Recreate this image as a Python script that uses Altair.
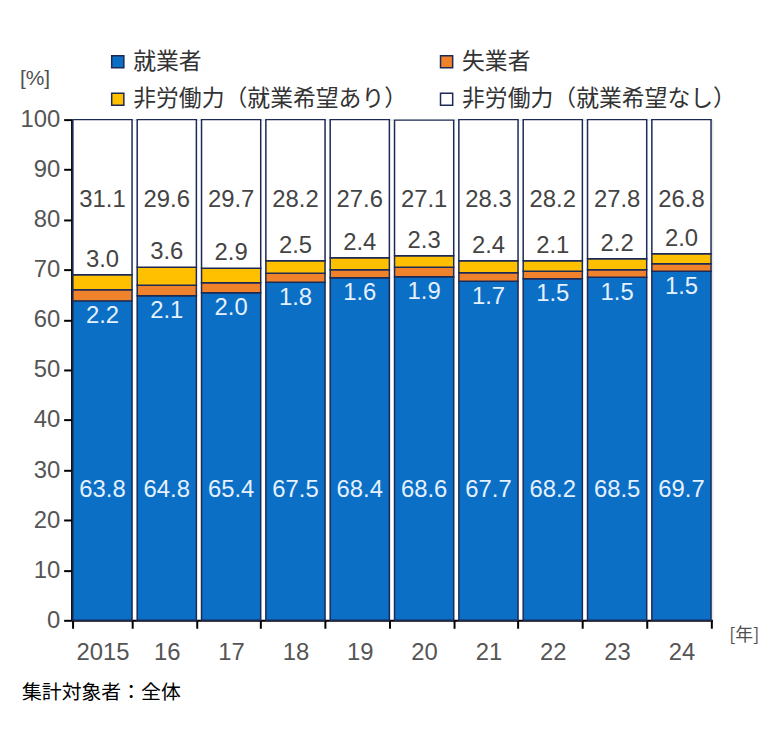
import altair as alt
import pandas as pd

years = ["2015", "16", "17", "18", "19", "20", "21", "22", "23", "24"]
employed = [63.8, 64.8, 65.4, 67.5, 68.4, 68.6, 67.7, 68.2, 68.5, 69.7]
unemployed = [2.2, 2.1, 2.0, 1.8, 1.6, 1.9, 1.7, 1.5, 1.5, 1.5]
nlf_hope = [3.0, 3.6, 2.9, 2.5, 2.4, 2.3, 2.4, 2.1, 2.2, 2.0]
nlf_nohope = [31.1, 29.6, 29.7, 28.2, 27.6, 27.1, 28.3, 28.2, 27.8, 26.8]

cats = ["就業者", "失業者", "非労働力（就業希望あり）", "非労働力（就業希望なし）"]
colors = ["#0B6FC6", "#F0822C", "#FFC000", "#FFFFFF"]
# legend laid out column-wise: put items so rows read 就業者/失業者, あり/なし
legend_order = [cats[0], cats[2], cats[1], cats[3]]
legend_colors = [colors[0], colors[2], colors[1], colors[3]]

JP = "Noto Sans CJK JP"
NUM = "Liberation Sans"

rows = []
for i, y in enumerate(years):
    vals = [employed[i], unemployed[i], nlf_hope[i], nlf_nohope[i]]
    for k, (c, v) in enumerate(zip(cats, vals)):
        rows.append({"year": y, "cat": c, "value": v, "order": k})
df = pd.DataFrame(rows)

lab = []
for i, y in enumerate(years):
    e, u, h, n = employed[i], unemployed[i], nlf_hope[i], nlf_nohope[i]
    lab.append({"year": y, "pos": 26.0, "txt": f"{e:.1f}", "col": "#E6F1FF"})
    lab.append({"year": y, "pos": e - 3.1, "txt": f"{u:.1f}", "col": "#E6F1FF"})
    lab.append({"year": y, "pos": e + u + h + 3.0, "txt": f"{h:.1f}", "col": "#444444"})
    lab.append({"year": y, "pos": 84.0, "txt": f"{n:.1f}", "col": "#444444"})
ldf = pd.DataFrame(lab)

xenc = alt.X("year:N", sort=years, title=None,
             scale=alt.Scale(paddingInner=0.08, paddingOuter=0.02),
             axis=alt.Axis(labelAngle=0, labelFontSize=24, labelColor="#555555",
                           labelFont=NUM, labelPadding=12, tickBand="extent",
                           tickSize=8, tickColor="black", domainColor="black",
                           domainWidth=2, tickWidth=2))

bars = alt.Chart(df).mark_bar(stroke="#1C2A55", strokeWidth=1.5).encode(
    x=xenc,
    y=alt.Y("value:Q", stack="zero",
            scale=alt.Scale(domain=[0, 100], clamp=True, nice=False),
            axis=alt.Axis(values=list(range(0, 101, 10)), title=None, grid=False,
                          labelFontSize=24, labelColor="#555555", labelFont=NUM,
                          tickSize=8, tickColor="black", domainColor="black",
                          domainWidth=2, tickWidth=2, labelPadding=4)),
    color=alt.Color("cat:N",
                    scale=alt.Scale(domain=legend_order, range=legend_colors),
                    legend=alt.Legend(title=None, orient="none", legendX=35, legendY=-70,
                                      columns=2, columnPadding=28, rowPadding=14,
                                      symbolType="square", symbolSize=150,
                                      symbolStrokeColor="#1C2A55", symbolStrokeWidth=1.5,
                                      labelFontSize=23, labelFont=JP, labelColor="#333333",
                                      labelLimit=400, symbolOpacity=1)),
    order=alt.Order("order:Q"),
)

texts = alt.Chart(ldf).mark_text(fontSize=24, font=NUM).encode(
    x=alt.X("year:N", sort=years),
    y=alt.Y("pos:Q"),
    text="txt:N",
    color=alt.Color("col:N", scale=None),
)

pct = alt.Chart(pd.DataFrame({"t": ["[%]"]})).mark_text(
    fontSize=21, font=NUM, color="#505050", align="left").encode(
    x=alt.value(-52), y=alt.value(-41), text="t:N")
nen = alt.Chart(pd.DataFrame({"t": ["[年]"]})).mark_text(
    fontSize=18, font=JP, color="#505050", align="left").encode(
    x=alt.value(662), y=alt.value(520), text="t:N")
note = alt.Chart(pd.DataFrame({"t": ["集計対象者：全体"]})).mark_text(
    fontSize=20, font=JP, color="black", align="left").encode(
    x=alt.value(-50), y=alt.value(577), text="t:N")

chart = alt.layer(bars, texts, pct, nen, note).resolve_scale(color="independent").properties(
    width=645, height=504,
    autosize=alt.AutoSizeParams(type="none"),
    padding={"left": 64, "top": 110, "right": 50, "bottom": 100},
).configure_view(stroke=None).configure(background="white")

chart.save("out.html", embed_options={"renderer": "svg", "actions": False})
